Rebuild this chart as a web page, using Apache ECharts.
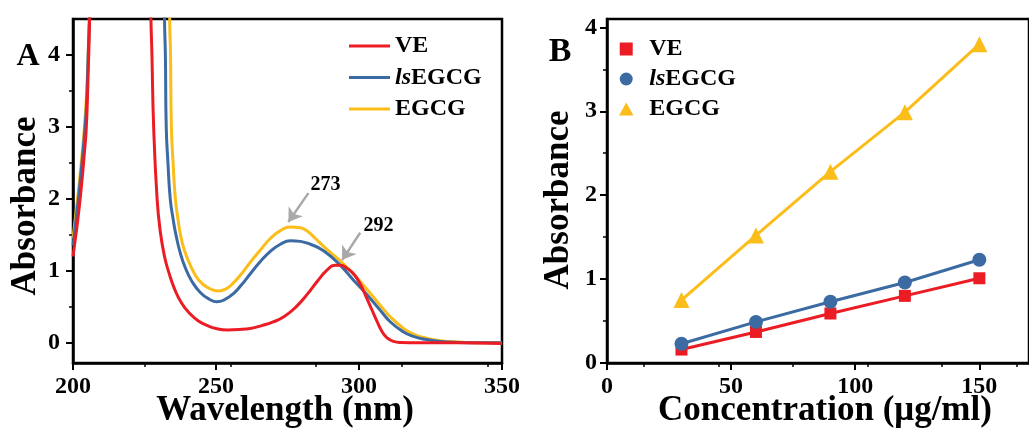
<!DOCTYPE html>
<html>
<head>
<meta charset="utf-8">
<script src="https://cdn.jsdelivr.net/npm/echarts@6/dist/echarts.min.js"></script>
<style>html,body{margin:0;padding:0;background:#fff}#c{width:1029px;height:435px}</style>
</head>
<body>
<div id="c"></div>
<script>
// ---- Panel A: UV-vis spectra ----
const veWave = [200,201,202,203,204,204.6,205.2,205.8,206.3,227,227.2,227.6,228.2,229.4,230.5,232,233.5,235.5,238,241,244,247,250,254,258,262,266,270,274,278,282,285.5,288.8,291.5,293.5,296,298.5,300.5,302.5,304.5,306.3,308,309.8,312,315,320,335,350];
const veAbs  = [1.2,1.5,1.82,2.2,2.65,2.95,3.6,4.5,5.5,5.5,4.6,4.0,3.0,2.0,1.55,1.2,0.98,0.75,0.55,0.4,0.3,0.24,0.2,0.18,0.185,0.2,0.24,0.29,0.37,0.5,0.68,0.86,1.01,1.08,1.08,1.03,0.94,0.81,0.64,0.46,0.3,0.16,0.07,0.02,0.005,0,0,-0.01];
const lsWave = [200,201,202,203,204,204.7,205.3,205.8,206.3,231.9,232,232.3,232.6,233.2,234,235,236,237.5,239.3,241.5,244.5,247.5,250.3,253,256,259,262,265.5,269,272.5,276,279.5,283,287.6,293.4,298.1,302.8,307.5,311,315.6,319,323,328.4,335,342,350];
const lsAbs  = [1.35,1.7,2.05,2.45,2.9,3.3,4.0,4.6,5.5,5.5,4.5,4.0,3.0,2.5,2.0,1.72,1.5,1.25,1.04,0.86,0.7,0.61,0.57,0.6,0.68,0.81,0.96,1.13,1.27,1.37,1.42,1.41,1.37,1.28,1.08,0.87,0.67,0.45,0.29,0.15,0.09,0.05,0.02,0.005,0,0];
const egWave = [200,201,202,203,204,204.8,205.3,205.7,206.2,233.7,233.8,234.1,234.4,235,235.8,236.7,237.5,239,241.6,244,247,250.9,253.5,256,258.5,262,265.5,269,272.5,276,279.5,282,284.5,287.6,290.5,293.4,298,302.8,307.5,311,315.6,319,323,328.4,336,343,350];
const egAbs  = [1.45,1.8,2.15,2.55,3.0,3.5,4.0,4.5,5.5,5.5,4.5,4.0,3.0,2.5,2.0,1.72,1.52,1.28,1.03,0.87,0.77,0.72,0.75,0.83,0.94,1.12,1.29,1.45,1.56,1.61,1.6,1.55,1.46,1.34,1.24,1.14,0.96,0.74,0.52,0.36,0.2,0.12,0.07,0.03,0.01,0,0];
// peak annotations: [label, textWave, textAbs, arrowStartWave, arrowStartAbs, arrowEndWave, arrowEndAbs]
const peakNotes = [
  ['273', 288.3, 2.19, 282.3, 2.08, 275.3, 1.68],
  ['292', 306.8, 1.62, 300.4, 1.53, 294.1, 1.15]
];
const xTicksA = [200,250,300,350];
const yTicksA = [0,1,2,3,4];

// ---- Panel B: absorbance vs concentration ----
const conc = [30,60,90,120,150];
const veB  = [0.16,0.37,0.59,0.80,1.01];
const lsB  = [0.23,0.49,0.73,0.96,1.23];
const egB  = [0.75,1.52,2.28,2.99,3.80];
const xTicksB = [0,50,100,150];
const yTicksB = [0,1,2,3,4];

const names = ['VE','lsEGCG','EGCG'];
const colors = ['#ec1c24','#3b6ba2','#fbbd19'];
const FONT = '"Liberation Serif","Times New Roman",serif';

function pairs(xs, ys){ return xs.map((x,i)=>[x, ys[i]]); }

const axisCommon = {
  axisLine: {show:true, onZero:false, lineStyle:{color:'#000', width:2.5}},
  axisTick: {show:true, inside:false, length:7, lineStyle:{color:'#000', width:2}},
  minorTick: {show:true, splitNumber:2, length:4, lineStyle:{color:'#000', width:1.5}},
  splitLine: {show:false},
  axisLabel: {color:'#000', fontFamily:FONT, fontWeight:'bold', fontSize:24, margin:12}
};
function mkAxis(extra, ticks, margin){
  const a = JSON.parse(JSON.stringify(axisCommon));
  Object.assign(a, extra);
  a.axisTick.customValues = ticks;
  a.axisLabel.customValues = ticks;
  if (margin !== undefined) a.axisLabel.margin = margin;
  return a;
}

const richItalic = {
  i:{fontStyle:'italic', fontWeight:'bold', fontFamily:FONT, fontSize:24, color:'#000'}
};
function legendFmt(n){ return n==='lsEGCG' ? '{i|ls}EGCG' : n; }
const lineIcon = 'path://M0,0L41,0L41,3L0,3Z';

const option = {
  animation:false,
  grid:[
    {left:73, top:19, width:429, height:344, show:true, borderColor:'#000', borderWidth:2.5, backgroundColor:'transparent'},
    {left:607, top:19, width:422, height:344, show:true, borderColor:'#000', borderWidth:2.5, backgroundColor:'transparent'}
  ],
  xAxis:[
    mkAxis({type:'value', gridIndex:0, min:200, max:350}, xTicksA),
    mkAxis({type:'value', gridIndex:1, min:0, max:170}, xTicksB)
  ],
  yAxis:[
    mkAxis({type:'value', gridIndex:0, min:-0.28, max:4.5}, yTicksA, 13),
    mkAxis({type:'value', gridIndex:1, min:0, max:4.1}, yTicksB, 10)
  ],
  legend:[
    {left:344, top:29, orient:'vertical', itemWidth:41, itemHeight:14, itemGap:7.5,
     data:names.map(n=>({name:n, icon:lineIcon})), formatter:legendFmt, selectedMode:false,
     textStyle:{color:'#000', fontFamily:FONT, fontWeight:'bold', fontSize:24, rich:richItalic}},
    {left:614, top:32, orient:'vertical', itemWidth:36, itemHeight:13, itemGap:6,
     data:[{name:'VE', icon:'path://M0,0L10,0L10,10L0,10Z'},{name:'lsEGCG', icon:'circle'},{name:'EGCG', icon:'path://M5,0L10,9L0,9Z'}],
     formatter:legendFmt, selectedMode:false,
     textStyle:{color:'#000', fontFamily:FONT, fontWeight:'bold', fontSize:24, rich:richItalic}}
  ],
  series:[
    {name:'VE', type:'line', xAxisIndex:0, yAxisIndex:0, data:pairs(veWave, veAbs), symbol:'none', smooth:0.5, clip:true,
     lineStyle:{width:3, color:colors[0]}, itemStyle:{color:colors[0]}, z:3},
    {name:'lsEGCG', type:'line', xAxisIndex:0, yAxisIndex:0, data:pairs(lsWave, lsAbs), symbol:'none', smooth:0.5, clip:true,
     lineStyle:{width:3, color:colors[1]}, itemStyle:{color:colors[1]}, z:2},
    {name:'EGCG', type:'line', xAxisIndex:0, yAxisIndex:0, data:pairs(egWave, egAbs), symbol:'none', smooth:0.5, clip:true,
     lineStyle:{width:3, color:colors[2]}, itemStyle:{color:colors[2]}, z:1,
     markLine:{silent:true, symbol:['none','arrow'], symbolSize:13, animation:false,
       label:{show:false}, lineStyle:{color:'#a9a9a9', width:2.5, type:'solid'},
       data: peakNotes.map(p=>[{coord:[p[3],p[4]]},{coord:[p[5],p[6]]}])},
     markPoint:{silent:true, symbol:'circle', symbolSize:1, itemStyle:{color:'rgba(0,0,0,0)'}, animation:false,
       label:{show:true, position:'inside', color:'#000', fontFamily:FONT, fontWeight:'bold', fontSize:20, formatter:p=>p.name},
       data: peakNotes.map(p=>({name:p[0], coord:[p[1],p[2]]}))}},
    {name:'VE', type:'line', xAxisIndex:1, yAxisIndex:1, data:pairs(conc, veB), symbol:'rect', symbolSize:12,
     lineStyle:{width:3, color:colors[0]}, itemStyle:{color:colors[0]}, z:3},
    {name:'lsEGCG', type:'line', xAxisIndex:1, yAxisIndex:1, data:pairs(conc, lsB), symbol:'circle', symbolSize:14,
     lineStyle:{width:3, color:colors[1]}, itemStyle:{color:colors[1]}, z:4},
    {name:'EGCG', type:'line', xAxisIndex:1, yAxisIndex:1, data:pairs(conc, egB), symbol:'triangle', symbolSize:16,
     lineStyle:{width:3, color:colors[2]}, itemStyle:{color:colors[2]}, z:5}
  ],
  graphic:[
    {type:'text', x:285, y:411, style:{text:'Wavelength (nm)', fill:'#000', font:'bold 35px '+FONT, align:'center', verticalAlign:'middle'}},
    {type:'text', x:825, y:411, style:{text:'Concentration (μg/ml)', fill:'#000', font:'bold 35px '+FONT, align:'center', verticalAlign:'middle'}},
    {type:'text', x:26, y:206, rotation:Math.PI/2, style:{text:'Absorbance', fill:'#000', font:'bold 35px '+FONT, align:'center', verticalAlign:'middle'}},
    {type:'text', x:559, y:200, rotation:Math.PI/2, style:{text:'Absorbance', fill:'#000', font:'bold 35px '+FONT, align:'center', verticalAlign:'middle'}},
    {type:'text', x:28, y:57, style:{text:'A', fill:'#000', font:'bold 32px '+FONT, align:'center', verticalAlign:'middle'}},
    {type:'text', x:560, y:52, style:{text:'B', fill:'#000', font:'bold 34px '+FONT, align:'center', verticalAlign:'middle'}}
  ]
};
const chart = echarts.init(document.getElementById('c'), null, {renderer:'canvas'});
chart.setOption(option);
</script>
</body>
</html>
